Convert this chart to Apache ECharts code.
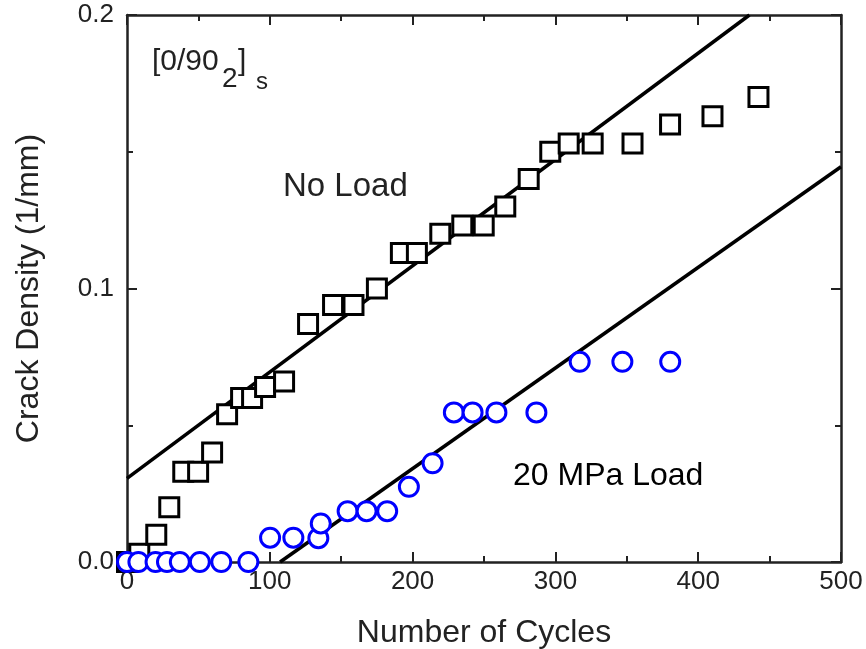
<!DOCTYPE html>
<html>
<head>
<meta charset="utf-8">
<script src="https://cdn.jsdelivr.net/npm/echarts@6/dist/echarts.min.js"></script>
<style>
html,body{margin:0;padding:0;background:#fff;}
#chart{width:866px;height:649px;}
</style>
</head>
<body>
<div id="chart"></div>
<script>
// ---- data ----
const noLoadCycles  = [0, 8.6, 20.5, 29.6, 39.4, 49.8, 59.6, 70.1, 79.9, 87.6, 96.7, 110.0, 126.8, 144.3, 158.6, 175.0, 191.8, 203.0, 219.4, 234.8, 249.8, 264.9, 281.3, 296.4, 309.3, 326.1, 354.0, 380.3, 410.0, 442.2];
const noLoadDensity = [0, 0.003, 0.010, 0.020, 0.033, 0.033, 0.040, 0.054, 0.060, 0.060, 0.064, 0.066, 0.087, 0.094, 0.094, 0.100, 0.113, 0.113, 0.120, 0.123, 0.123, 0.130, 0.140, 0.150, 0.153, 0.153, 0.153, 0.160, 0.163, 0.170];

const loadCycles  = [0, 8, 20, 28, 37, 51, 66, 85, 100.2, 116.5, 134.0, 135.7, 154.5, 167.8, 182.2, 197.4, 214.0, 228.9, 242.0, 258.7, 286.7, 317.0, 346.9, 380.4];
const loadDensity = [0, 0, 0, 0, 0, 0, 0, 0, 0.0089, 0.0089, 0.0087, 0.0141, 0.0186, 0.0186, 0.0186, 0.0275, 0.0361, 0.0547, 0.0547, 0.0547, 0.0547, 0.0732, 0.0732, 0.0732];

// fitted straight lines (end points)
const fitNoLoadX = [0, 435.9];
const fitNoLoadY = [0.0306, 0.2];
const fitLoadX   = [107.2, 500];
const fitLoadY   = [0, 0.1445];

const xTicks = [0, 100, 200, 300, 400, 500];
const yTicks = [0.0, 0.1, 0.2];

const labelNoLoad = 'No Load';
const labelLoad = '20 MPa Load';
const xTitle = 'Number of Cycles';
const yTitle = 'Crack Density (1/mm)';

// ---- build ----
const zip = (a, b) => a.map((v, i) => [v, b[i]]);
const FONT = 'Liberation Sans';
const INK = '#222';

const axisCommon = {
  type: 'value',
  splitLine: { show: false },
  axisLine: { show: true, onZero: false, lineStyle: { color: INK, width: 2.5 } },
  axisTick: { show: true, inside: true, length: 10, lineStyle: { color: INK, width: 2 } },
  minorTick: { show: true, splitNumber: 2, length: 6, lineStyle: { color: INK, width: 2 } },
  minorSplitLine: { show: false }
};

const chart = echarts.init(document.getElementById('chart'), null, { renderer: 'canvas' });
chart.setOption({
  animation: false,
  backgroundColor: '#fff',
  grid: { left: 127, right: 25, top: 15, bottom: 87, containLabel: false, outerBoundsMode: 'none' },
  xAxis: [
    Object.assign({}, axisCommon, {
      position: 'bottom', min: xTicks[0], max: xTicks[xTicks.length - 1], interval: 100,
      axisLabel: { color: INK, fontSize: 26, fontFamily: FONT, margin: 7 },
      name: xTitle, nameLocation: 'middle', nameGap: 55,
      nameTextStyle: { color: INK, fontSize: 32, fontFamily: FONT }
    }),
    Object.assign({}, axisCommon, {
      position: 'top', min: xTicks[0], max: xTicks[xTicks.length - 1], interval: 100,
      axisLabel: { show: false }
    })
  ],
  yAxis: [
    Object.assign({}, axisCommon, {
      position: 'left', min: yTicks[0], max: yTicks[yTicks.length - 1], interval: 0.1,
      axisLabel: { color: INK, fontSize: 26, fontFamily: FONT, margin: 13, formatter: v => v.toFixed(1) },
      name: yTitle, nameLocation: 'middle', nameGap: 82, nameRotate: 90,
      nameTextStyle: { color: INK, fontSize: 32, fontFamily: FONT }
    }),
    Object.assign({}, axisCommon, {
      position: 'right', min: yTicks[0], max: yTicks[yTicks.length - 1], interval: 0.1,
      axisLabel: { show: false }
    })
  ],
  series: [
    {
      type: 'line', data: zip(fitNoLoadX, fitNoLoadY), symbol: 'none', silent: true,
      lineStyle: { color: '#000', width: 3.5 }, z: 1
    },
    {
      type: 'line', data: zip(fitLoadX, fitLoadY), symbol: 'none', silent: true,
      lineStyle: { color: '#000', width: 3.5 }, z: 1
    },
    {
      type: 'scatter', data: zip(noLoadCycles, noLoadDensity), symbol: 'rect', symbolSize: 19,
      itemStyle: { color: '#fff', borderColor: '#000', borderWidth: 3, opacity: 1 }, z: 2
    },
    {
      type: 'scatter', data: zip(loadCycles, loadDensity), symbol: 'circle', symbolSize: 19,
      itemStyle: { color: '#fff', borderColor: '#0000ff', borderWidth: 3, opacity: 1 }, z: 3
    }
  ],
  graphic: [
    { type: 'text', x: 283, y: 187, style: { text: labelNoLoad, fill: INK, font: '33px "Liberation Sans"', verticalAlign: 'middle' } },
    { type: 'text', x: 513, y: 476, style: { text: labelLoad, fill: '#000', font: '32px "Liberation Sans"', verticalAlign: 'middle' } },
    { type: 'text', x: 152, y: 62, style: { text: '[0/90', fill: INK, font: '30px "Liberation Sans"', verticalAlign: 'middle' } },
    { type: 'text', x: 222, y: 79, style: { text: '2', fill: INK, font: '28px "Liberation Sans"', verticalAlign: 'middle' } },
    { type: 'text', x: 238, y: 62, style: { text: ']', fill: INK, font: '30px "Liberation Sans"', verticalAlign: 'middle' } },
    { type: 'text', x: 256, y: 82, style: { text: 's', fill: INK, font: '24px "Liberation Sans"', verticalAlign: 'middle' } }
  ]
});
</script>
</body>
</html>
